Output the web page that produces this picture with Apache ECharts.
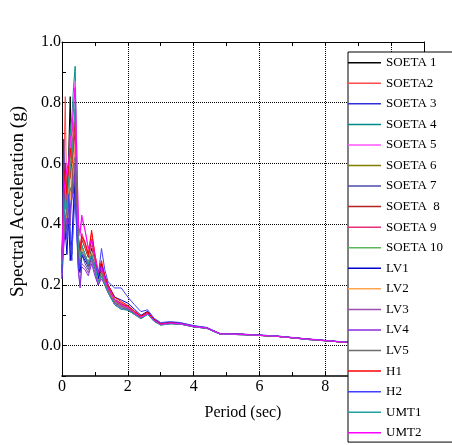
<!DOCTYPE html>
<html>
<head>
<meta charset="utf-8">
<script src="https://cdn.jsdelivr.net/npm/echarts@6/dist/echarts.min.js"></script>
<style>
  html, body { margin: 0; padding: 0; background: #fff; }
  #chart { width: 452px; height: 445px; }
</style>
</head>
<body>
<div id="chart"></div>
<script>
// period axis (sec), shared by all records
const periods = [0, 0.05, 0.1, 0.15, 0.2, 0.25, 0.3, 0.35, 0.4, 0.45, 0.5, 0.55, 0.6, 0.7, 0.8, 0.9, 1.0, 1.1, 1.2, 1.3, 1.4, 1.5, 1.6, 1.8,
                 2.0, 2.2, 2.4, 2.6, 2.8, 3.0, 3.3, 3.6, 4.0, 4.4, 4.8, 5.5, 6.5, 7.5, 8.5, 9.5, 11];

// spectral acceleration (g), one list per record
const soeta1 = [0.28, 0.42, 0.5, 0.46, 0.62, 0.82, 0.55, 0.5, 0.6, 0.42, 0.3, 0.28, 0.33, 0.3, 0.27, 0.32, 0.28, 0.22, 0.25, 0.22, 0.19, 0.17, 0.15, 0.14,
                0.125, 0.108, 0.093, 0.106, 0.083, 0.07, 0.074, 0.072, 0.063, 0.058, 0.039, 0.037, 0.031, 0.021, 0.012, 0.009, 0.006];
const soeta2 = [0.3, 0.55, 0.82, 0.4, 0.62, 0.55, 0.72, 0.7, 0.7, 0.5, 0.33, 0.3, 0.36, 0.33, 0.3, 0.37, 0.3, 0.24, 0.27, 0.23, 0.2, 0.18, 0.155, 0.14,
                0.13, 0.112, 0.096, 0.11, 0.085, 0.072, 0.076, 0.073, 0.064, 0.058, 0.039, 0.037, 0.031, 0.021, 0.012, 0.009, 0.006];
const soeta3 = [0.25, 0.68, 0.45, 0.38, 0.5, 0.35, 0.28, 0.48, 0.55, 0.4, 0.3, 0.26, 0.31, 0.29, 0.27, 0.3, 0.26, 0.21, 0.24, 0.21, 0.18, 0.16, 0.145, 0.135,
                0.125, 0.108, 0.093, 0.106, 0.083, 0.07, 0.074, 0.072, 0.063, 0.058, 0.039, 0.037, 0.031, 0.021, 0.012, 0.009, 0.006];
const soeta4 = [0.3, 0.4, 0.55, 0.5, 0.6, 0.7, 0.75, 0.85, 0.92, 0.6, 0.35, 0.3, 0.33, 0.3, 0.27, 0.31, 0.27, 0.22, 0.24, 0.21, 0.18, 0.16, 0.14, 0.125,
                0.117, 0.103, 0.089, 0.103, 0.08, 0.068, 0.072, 0.071, 0.062, 0.057, 0.038, 0.036, 0.031, 0.02, 0.012, 0.009, 0.006];
const soeta5 = [0.27, 0.45, 0.5, 0.6, 0.55, 0.65, 0.72, 0.8, 0.87, 0.65, 0.38, 0.36, 0.42, 0.38, 0.32, 0.34, 0.29, 0.24, 0.26, 0.22, 0.19, 0.17, 0.15, 0.135,
                0.125, 0.108, 0.093, 0.106, 0.083, 0.07, 0.074, 0.072, 0.063, 0.058, 0.039, 0.037, 0.031, 0.021, 0.012, 0.009, 0.006];
const soeta6 = [0.26, 0.38, 0.44, 0.5, 0.48, 0.6, 0.55, 0.7, 0.72, 0.5, 0.32, 0.28, 0.32, 0.3, 0.26, 0.3, 0.26, 0.21, 0.24, 0.21, 0.185, 0.165, 0.145, 0.13,
                0.122, 0.106, 0.091, 0.105, 0.082, 0.07, 0.073, 0.072, 0.063, 0.058, 0.039, 0.037, 0.031, 0.021, 0.012, 0.009, 0.006];
const soeta7 = [0.24, 0.4, 0.35, 0.45, 0.5, 0.42, 0.55, 0.5, 0.58, 0.45, 0.3, 0.25, 0.3, 0.27, 0.25, 0.29, 0.25, 0.2, 0.23, 0.2, 0.18, 0.16, 0.14, 0.13,
                0.122, 0.106, 0.091, 0.105, 0.082, 0.07, 0.073, 0.072, 0.063, 0.058, 0.039, 0.037, 0.031, 0.021, 0.012, 0.009, 0.006];
const soeta8 = [0.3, 0.5, 0.6, 0.45, 0.55, 0.62, 0.5, 0.66, 0.7, 0.48, 0.34, 0.3, 0.35, 0.32, 0.29, 0.35, 0.29, 0.23, 0.26, 0.22, 0.19, 0.17, 0.15, 0.135,
                0.13, 0.112, 0.096, 0.11, 0.085, 0.072, 0.076, 0.073, 0.064, 0.058, 0.039, 0.037, 0.031, 0.021, 0.012, 0.009, 0.006];
const soeta9 = [0.28, 0.45, 0.52, 0.48, 0.58, 0.6, 0.65, 0.72, 0.78, 0.55, 0.36, 0.32, 0.37, 0.34, 0.3, 0.33, 0.28, 0.23, 0.25, 0.22, 0.19, 0.17, 0.15, 0.135,
                0.125, 0.108, 0.093, 0.106, 0.083, 0.07, 0.074, 0.072, 0.063, 0.058, 0.039, 0.037, 0.031, 0.021, 0.012, 0.009, 0.006];
const soeta10 = [0.26, 0.42, 0.48, 0.55, 0.52, 0.62, 0.6, 0.68, 0.75, 0.52, 0.33, 0.29, 0.33, 0.3, 0.26, 0.3, 0.26, 0.21, 0.23, 0.2, 0.175, 0.155, 0.135, 0.12,
                 0.117, 0.103, 0.089, 0.103, 0.08, 0.068, 0.072, 0.071, 0.062, 0.057, 0.038, 0.036, 0.031, 0.02, 0.012, 0.009, 0.006];
const lv1 = [0.22, 0.5, 0.38, 0.3, 0.42, 0.28, 0.35, 0.45, 0.52, 0.38, 0.26, 0.24, 0.3, 0.28, 0.26, 0.3, 0.27, 0.22, 0.27, 0.23, 0.2, 0.18, 0.16, 0.15,
             0.14, 0.12, 0.1, 0.113, 0.087, 0.073, 0.077, 0.074, 0.065, 0.059, 0.04, 0.037, 0.032, 0.021, 0.012, 0.009, 0.006];
const lv2 = [0.27, 0.38, 0.45, 0.4, 0.52, 0.48, 0.58, 0.62, 0.66, 0.48, 0.32, 0.28, 0.32, 0.3, 0.27, 0.31, 0.27, 0.21, 0.24, 0.21, 0.18, 0.165, 0.145, 0.13,
             0.125, 0.108, 0.093, 0.106, 0.083, 0.07, 0.074, 0.072, 0.063, 0.058, 0.039, 0.037, 0.031, 0.021, 0.012, 0.009, 0.006];
const lv3 = [0.23, 0.35, 0.4, 0.36, 0.45, 0.4, 0.5, 0.55, 0.6, 0.42, 0.25, 0.2, 0.27, 0.26, 0.24, 0.28, 0.24, 0.2, 0.23, 0.2, 0.175, 0.155, 0.14, 0.125,
             0.12, 0.105, 0.09, 0.104, 0.081, 0.069, 0.073, 0.071, 0.062, 0.057, 0.038, 0.036, 0.031, 0.02, 0.012, 0.009, 0.006];
const lv4 = [0.22, 0.32, 0.38, 0.42, 0.4, 0.45, 0.48, 0.52, 0.56, 0.4, 0.24, 0.19, 0.26, 0.25, 0.23, 0.27, 0.23, 0.2, 0.22, 0.2, 0.175, 0.155, 0.135, 0.12,
             0.118, 0.104, 0.09, 0.104, 0.081, 0.069, 0.073, 0.071, 0.062, 0.057, 0.038, 0.036, 0.031, 0.02, 0.012, 0.009, 0.006];
const lv5 = [0.25, 0.36, 0.42, 0.45, 0.48, 0.52, 0.5, 0.6, 0.62, 0.45, 0.3, 0.27, 0.31, 0.29, 0.26, 0.3, 0.26, 0.21, 0.24, 0.21, 0.18, 0.16, 0.145, 0.13,
             0.122, 0.106, 0.091, 0.105, 0.082, 0.07, 0.073, 0.072, 0.063, 0.058, 0.039, 0.037, 0.031, 0.021, 0.012, 0.009, 0.006];
const h1 = [0.29, 0.48, 0.58, 0.5, 0.6, 0.65, 0.6, 0.68, 0.74, 0.52, 0.35, 0.31, 0.36, 0.34, 0.3, 0.38, 0.3, 0.24, 0.28, 0.23, 0.2, 0.18, 0.16, 0.145,
            0.132, 0.114, 0.097, 0.111, 0.086, 0.072, 0.076, 0.073, 0.064, 0.058, 0.039, 0.037, 0.031, 0.021, 0.012, 0.009, 0.006];
const h2 = [0.24, 0.45, 0.4, 0.35, 0.5, 0.38, 0.3, 0.4, 0.5, 0.36, 0.25, 0.26, 0.3, 0.29, 0.27, 0.29, 0.27, 0.23, 0.32, 0.25, 0.21, 0.2, 0.19, 0.19,
            0.16, 0.135, 0.112, 0.118, 0.09, 0.076, 0.079, 0.076, 0.066, 0.06, 0.04, 0.038, 0.032, 0.022, 0.013, 0.01, 0.007];
const umt1 = [0.27, 0.4, 0.5, 0.45, 0.55, 0.58, 0.62, 0.7, 0.8, 0.55, 0.33, 0.29, 0.33, 0.3, 0.27, 0.3, 0.26, 0.21, 0.23, 0.2, 0.175, 0.155, 0.135, 0.12,
              0.117, 0.103, 0.089, 0.103, 0.08, 0.068, 0.072, 0.071, 0.062, 0.057, 0.038, 0.036, 0.031, 0.02, 0.012, 0.009, 0.006];
const umt2 = [0.28, 0.5, 0.55, 0.58, 0.6, 0.68, 0.7, 0.78, 0.85, 0.62, 0.4, 0.37, 0.43, 0.38, 0.32, 0.35, 0.3, 0.24, 0.26, 0.22, 0.19, 0.17, 0.15, 0.135,
              0.125, 0.108, 0.093, 0.106, 0.083, 0.07, 0.074, 0.072, 0.063, 0.058, 0.039, 0.037, 0.031, 0.021, 0.012, 0.009, 0.006];

const names = ['SOETA 1', 'SOETA2', 'SOETA 3', 'SOETA 4', 'SOETA 5', 'SOETA 6', 'SOETA 7', 'SOETA  8', 'SOETA 9', 'SOETA 10',
               'LV1', 'LV2', 'LV3', 'LV4', 'LV5', 'H1', 'H2', 'UMT1', 'UMT2'];
const records = [soeta1, soeta2, soeta3, soeta4, soeta5, soeta6, soeta7, soeta8, soeta9, soeta10,
                 lv1, lv2, lv3, lv4, lv5, h1, h2, umt1, umt2];
const colors = ['#000000', '#ff4d4d', '#3030d8', '#008b8b', '#ff55ff', '#808000', '#4b4baa', '#b22222', '#e8307a', '#5cb85c',
                '#0000cc', '#ffa54f', '#9b4fb0', '#8a2be2', '#6e6e6e', '#ff0000', '#4040ff', '#20a0a0', '#ff00ff'];

// dotted grid positions
const xGrid = [2, 4, 6, 8, 10];
const yGrid = [0, 0.2, 0.4, 0.6, 0.8];

const font = 'Liberation Serif';

let el = document.getElementById('chart');
let inst = echarts.init(el);

let series = records.map((vals, i) => ({
  name: names[i],
  type: 'line',
  data: periods.map((p, j) => [p, vals[j]]),
  symbol: 'none',
  lineStyle: { width: 1, color: colors[i] },
  itemStyle: { color: colors[i] },
  z: 3
}));

// dotted grid lines drawn under the records
series.unshift({
  name: 'grid',
  type: 'line',
  data: [],
  z: 1,
  silent: true,
  markLine: {
    z: 1,
    silent: true,
    symbol: ['none', 'none'],
    label: { show: false },
    lineStyle: { type: 'dotted', color: '#000', width: 1 },
    data: xGrid.map(v => ({ xAxis: v })).concat(yGrid.map(v => ({ yAxis: v })))
  }
});

const axisCommon = {
  type: 'value',
  axisLine: { onZero: false, lineStyle: { color: '#000', width: 1 } },
  axisTick: { inside: true, length: 4, lineStyle: { color: '#000' } },
  splitLine: { show: false }
};

let option = {
  animation: false,
  backgroundColor: '#fff',
  grid: { left: 62, right: 28, top: 42, bottom: 69, outerBoundsMode: 'none' },
  xAxis: [
    Object.assign({}, axisCommon, {
      min: 0, max: 11, interval: 1, position: 'bottom',
      axisLine: { onZero: false, lineStyle: { color: '#000', width: 1.5 } },
      axisLabel: {
        formatter: v => (v % 2 === 0 ? String(v) : ''),
        margin: 3, color: '#000', fontFamily: font, fontSize: 16
      },
      name: 'Period (sec)', nameLocation: 'middle', nameGap: 29,
      nameTextStyle: { color: '#000', fontFamily: font, fontSize: 16 }
    }),
    Object.assign({}, axisCommon, {
      min: 0, max: 11, interval: 1, position: 'top',
      axisLabel: { show: false }
    })
  ],
  yAxis: [
    Object.assign({}, axisCommon, {
      min: -0.1, max: 1.0, interval: 0.1, position: 'left',
      axisLabel: {
        formatter: v => {
          let k = Math.round(v * 10);
          return (k >= 0 && k % 2 === 0) ? (k / 10).toFixed(1) : '';
        },
        margin: 1, color: '#000', fontFamily: font, fontSize: 16
      },
      name: 'Spectral Acceleration (g)', nameLocation: 'middle', nameGap: 34,
      nameTextStyle: { color: '#000', fontFamily: font, fontSize: 19, padding: [0, 0, 0, 15] }
    }),
    Object.assign({}, axisCommon, {
      min: -0.1, max: 1.0, interval: 0.1, position: 'right',
      axisLabel: { show: false }
    })
  ],
  legend: {
    data: names,
    z: 10,
    orient: 'vertical',
    left: 348, top: 52,
    icon: 'rect',
    itemWidth: 33, itemHeight: 1.5, itemGap: 6.56,
    padding: [3.7, 24, 2.3, 0],
    borderColor: '#000', borderWidth: 1,
    backgroundColor: '#fff',
    selectedMode: false,
    textStyle: { color: '#000', fontFamily: font, fontSize: 13, lineHeight: 14 }
  },
  series: series
};

inst.setOption(option);
</script>
</body>
</html>
